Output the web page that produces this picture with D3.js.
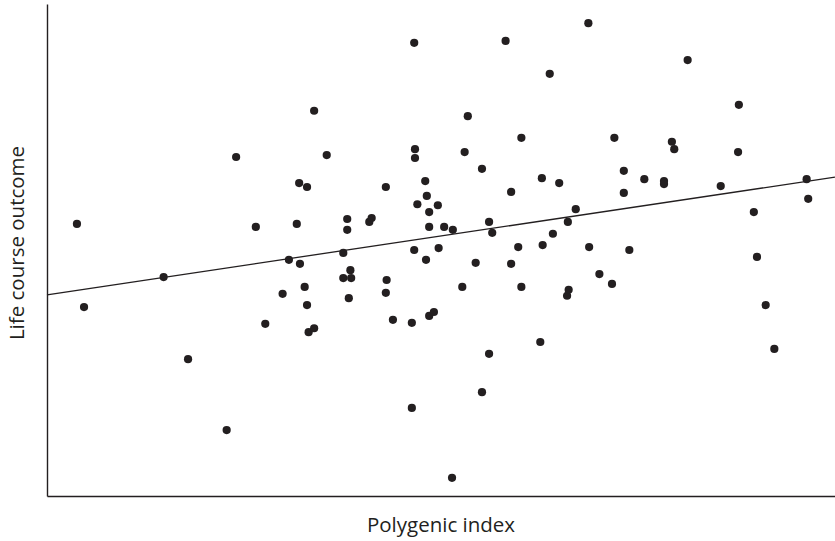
<!DOCTYPE html>
<html>
<head>
<meta charset="utf-8">
<script src="https://cdn.jsdelivr.net/npm/d3@7"></script>
<style>
  html, body { margin: 0; padding: 0; background: #fff; }
  svg { display: block; }
  text { font-family: "Open Sans", "Noto Sans", sans-serif; fill: #231f20; }
</style>
</head>
<body>
<svg id="chart" width="835" height="541"></svg>
<script>
// Polygenic index (x) and life course outcome (y) for each individual, arbitrary 0–100 units
const polygenicIndex = [
  3.8, 4.7, 14.8, 17.9, 22.8, 24.0, 26.5, 27.7, 29.9, 30.7,
  31.7, 32.0, 32.1, 32.7, 33.0, 33.0, 33.2, 33.9, 33.9, 35.5,
  37.6, 37.6, 38.1, 38.1, 38.5, 38.6, 38.3, 40.9, 41.2, 43.0,
  43.0, 43.1, 43.9, 46.3, 46.3, 46.6, 46.7, 46.7, 46.6, 47.0,
  48.0, 48.1, 48.2, 48.5, 48.5, 48.5, 49.1, 49.6, 49.7, 50.4,
  51.4, 51.5, 52.7, 53.0, 53.4, 54.4, 55.2, 55.2, 56.1, 56.1,
  56.5, 58.2, 58.9, 58.9, 59.8, 60.2, 60.2, 62.6, 62.8, 62.9,
  63.8, 64.2, 65.0, 66.0, 66.1, 66.2, 67.1, 68.7, 68.8, 70.1,
  71.7, 72.0, 73.2, 73.2, 73.9, 75.8, 78.3, 78.3, 79.3, 79.6,
  81.3, 85.5, 87.8, 87.7, 89.7, 90.1, 91.2, 92.3, 96.4, 96.6
];
const lifeCourseOutcome = [
  55.3, 38.4, 44.5, 27.8, 13.4, 68.9, 54.7, 35.0, 41.1, 48.0,
  55.3, 63.6, 47.2, 42.5, 62.8, 38.8, 33.3, 34.1, 78.3, 69.3,
  49.4, 44.3, 54.1, 56.3, 45.9, 44.3, 40.2, 55.7, 56.5, 62.8,
  41.3, 43.9, 35.8, 35.2, 17.9, 92.1, 70.5, 68.7, 50.0, 59.3,
  64.0, 48.0, 61.0, 36.6, 57.7, 54.7, 37.4, 59.1, 50.4, 54.7,
   3.7, 54.1, 42.5, 69.9, 77.2, 47.4, 66.5, 21.1, 28.9, 55.7,
  53.5, 92.5, 61.8, 47.2, 50.6, 72.8, 42.5, 31.3, 64.6, 51.0,
  85.8, 53.3, 63.6, 40.7, 55.7, 41.9, 58.3, 96.1, 50.6, 45.1,
  43.1, 72.8, 66.1, 61.6, 50.0, 64.4, 64.0, 63.4, 72.0, 70.5,
  88.6, 63.0, 79.5, 69.9, 57.7, 48.6, 38.8, 29.9, 64.4, 60.4
];
// Fitted regression line, evaluated at both ends of the x range
const fitX = [0, 100];
const fitY = [40.9, 64.8];

const xLabel = "Polygenic index";
const yLabel = "Life course outcome";

const svg = d3.select("#chart");
const margin = { left: 47, right: 0, top: 4, bottom: 45 };
const W = 835, H = 541;

const x = d3.scaleLinear().domain([0, 100]).range([margin.left, W - margin.right]);
const y = d3.scaleLinear().domain([0, 100]).range([H - margin.bottom, margin.top]);

const ink = "#231f20";

// Axes: plain lines with no ticks
const xAxis = d3.axisBottom(x).tickValues([]).tickSizeOuter(0);
const yAxis = d3.axisLeft(y).tickValues([]).tickSizeOuter(0);

svg.append("g")
  .attr("transform", `translate(0,${y(0)})`)
  .call(xAxis)
  .call(g => g.select(".domain").attr("stroke", ink).attr("stroke-width", 1.4));

svg.append("g")
  .attr("transform", `translate(${x(0)},0)`)
  .call(yAxis)
  .call(g => g.select(".domain").attr("stroke", ink).attr("stroke-width", 1.4));

// Regression line
const fit = fitX.map((v, i) => ({ x: v, y: fitY[i] }));
svg.append("path")
  .datum(fit)
  .attr("fill", "none")
  .attr("stroke", ink)
  .attr("stroke-width", 1.3)
  .attr("d", d3.line().x(d => x(d.x)).y(d => y(d.y)));

// Individual observations
const points = polygenicIndex.map((v, i) => ({ x: v, y: lifeCourseOutcome[i] }));
svg.append("g")
  .selectAll("circle")
  .data(points)
  .join("circle")
  .attr("cx", d => x(d.x))
  .attr("cy", d => y(d.y))
  .attr("r", 4.1)
  .attr("fill", ink);

// Axis titles
svg.append("text")
  .attr("x", (x(0) + x(100)) / 2)
  .attr("y", 532)
  .attr("text-anchor", "middle")
  .attr("font-size", 20.5)
  .text(xLabel);

svg.append("text")
  .attr("transform", "translate(24,243) rotate(-90)")
  .attr("text-anchor", "middle")
  .attr("font-size", 20.5)
  .text(yLabel);
</script>
</body>
</html>
